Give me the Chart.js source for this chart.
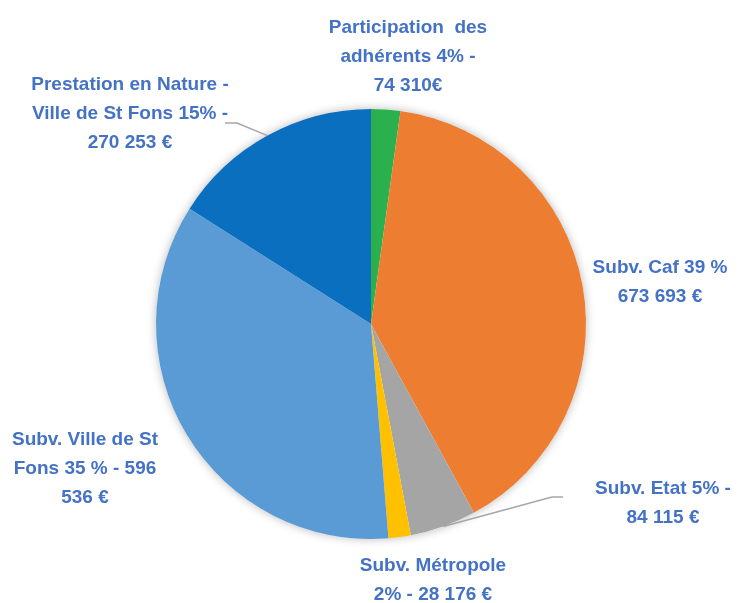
<!DOCTYPE html>
<html>
<head>
<meta charset="utf-8">
<script src="https://cdn.jsdelivr.net/npm/chart.js@4.4.1/dist/chart.umd.min.js"></script>
<style>
  html, body { margin: 0; padding: 0; background: #fff; }
</style>
</head>
<body>
<canvas id="chart" width="750" height="603"></canvas>
<script>
const categories = [
  'Participation des adhérents',
  'Subv. Caf',
  'Subv. Etat',
  'Subv. Métropole',
  'Subv. Ville de St Fons',
  'Prestation en Nature - Ville de St Fons'
];

// slice sizes as drawn in the picture (the green slice is drawn smaller than its label says)
const amounts = [37000, 673693, 84115, 28176, 596536, 270253];

// label text, line by line, as printed on the chart
const labelLines = [
  ['Participation  des', 'adhérents 4% -', '74 310€'],
  ['Subv. Caf 39 %', '673 693 €'],
  ['Subv. Etat 5% -', '84 115 €'],
  ['Subv. Métropole', '2% - 28 176 €'],
  ['Subv. Ville de St', 'Fons 35 % - 596', '536 €'],
  ['Prestation en Nature -', 'Ville de St Fons 15% -', '270 253 €']
];

const sliceColors = ['#2AB04C', '#ED7D31', '#A5A5A5', '#FFC000', '#5B9BD5', '#0B6FBF'];

// label placement relative to pie centre; leader = [start, knee] offsets
const labelPlace = [
  { dx: 37, dy: -296 },
  { dx: 289, dy: -56 },
  { dx: 292, dy: 165, leader: [[192, 173], [181, 173]] },
  { dx: 62, dy: 242 },
  { dx: -286, dy: 116 },
  { dx: -241, dy: -239, leader: [[-146, -201], [-134, -201]] }
];

const pieShadow = {
  id: 'pieShadow',
  beforeDatasetsDraw(chart) {
    const arc = chart.getDatasetMeta(0).data[0];
    if (!arc) return;
    const ctx = chart.ctx;
    ctx.save();
    ctx.shadowColor = 'rgba(0,0,0,0.28)';
    ctx.shadowBlur = 10;
    ctx.fillStyle = '#fff';
    ctx.beginPath();
    ctx.arc(arc.x, arc.y, arc.outerRadius, 0, Math.PI * 2);
    ctx.fill();
    ctx.restore();
  }
};

const labelPlugin = {
  id: 'outLabels',
  afterDatasetsDraw(chart) {
    const ctx = chart.ctx;
    const meta = chart.getDatasetMeta(0);
    ctx.save();
    meta.data.forEach((arc, i) => {
      const p = labelPlace[i];
      const cx = arc.x, cy = arc.y;
      if (p.leader) {
        const mid = (arc.startAngle + arc.endAngle) / 2;
        const r = arc.outerRadius;
        ctx.strokeStyle = '#A6A6A6';
        ctx.lineWidth = 1.5;
        ctx.beginPath();
        ctx.moveTo(cx + p.leader[0][0], cy + p.leader[0][1]);
        ctx.lineTo(cx + p.leader[1][0], cy + p.leader[1][1]);
        ctx.lineTo(cx + Math.cos(mid) * r, cy + Math.sin(mid) * r);
        ctx.stroke();
      }
      ctx.fillStyle = '#4472C4';
      ctx.font = 'bold 19px "Liberation Sans Narrow", "Liberation Sans", sans-serif';
      ctx.textAlign = 'center';
      ctx.textBaseline = 'middle';
      labelLines[i].forEach((line, k) => {
        ctx.fillText(line, cx + p.dx, cy + p.dy + k * 29);
      });
    });
    ctx.restore();
  }
};

new Chart(document.getElementById('chart'), {
  type: 'pie',
  data: {
    labels: categories,
    datasets: [{
      data: amounts,
      backgroundColor: sliceColors,
      borderWidth: 0
    }]
  },
  options: {
    responsive: false,
    animation: false,
    layout: { padding: { left: 156, right: 164, top: 109, bottom: 64 } },
    plugins: {
      legend: { display: false },
      tooltip: { enabled: false }
    }
  },
  plugins: [pieShadow, labelPlugin]
});
</script>
</body>
</html>
